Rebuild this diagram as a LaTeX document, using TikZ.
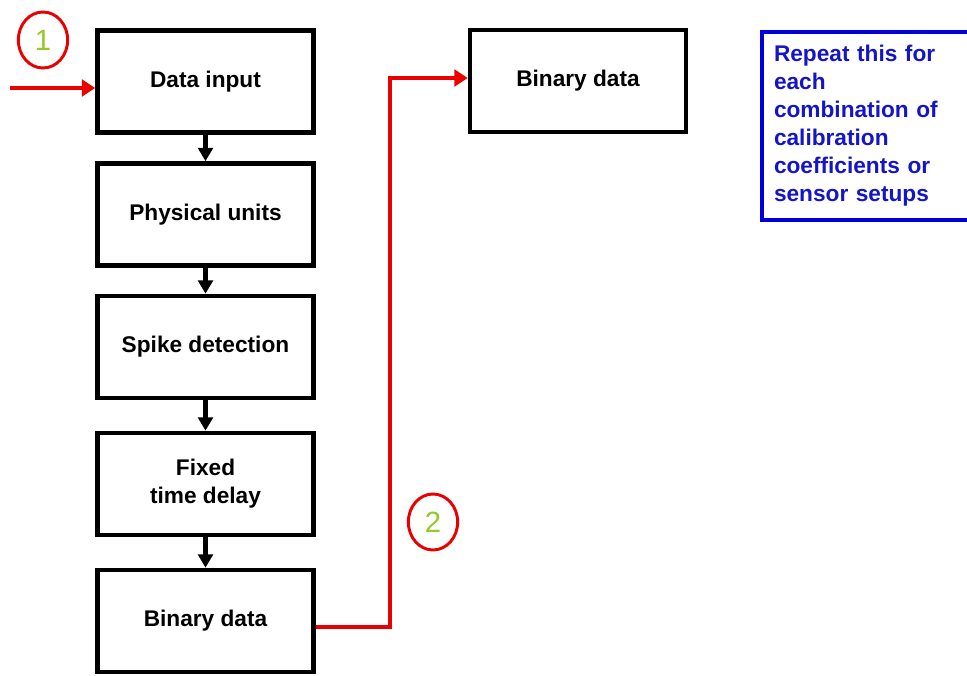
\documentclass[tikz,border=0pt]{standalone}
\usepackage{fontspec}
\setmainfont{Liberation Sans}
\usetikzlibrary{arrows.meta,shapes.geometric}
\definecolor{markred}{RGB}{235,0,0}
\definecolor{markgreen}{RGB}{150,200,40}
\definecolor{noteblue}{RGB}{0,0,215}
\definecolor{notetext}{RGB}{20,20,200}
\begin{document}
\begin{tikzpicture}[x=0.75pt,y=-0.75pt,line join=miter,
	block/.style={draw,line width=3.5pt,minimum width=162pt,minimum height=76.5pt,align=center,
		font=\fontsize{17}{21}\selectfont\bfseries,inner sep=0pt},
	note/.style={draw=noteblue,line width=3pt,text=notetext,anchor=north west,align=left,
		text width=172pt,inner xsep=9pt,minimum height=141pt,font=\fontsize{17}{21}\selectfont\bfseries},
	callout/.style={ellipse,draw=markred,line width=2.2pt,minimum width=37pt,minimum height=42pt,
		inner sep=0pt,text=markgreen,font=\fontsize{22}{22}\selectfont},
	flow/.style={line width=3.5pt,-{Triangle[width=11pt,length=10pt]}},
	redline/.style={draw=markred,line width=3.5pt,-{Triangle[width=12.5pt,length=10pt]}}]
	\useasboundingbox (0,0) rectangle (967,675);
	\clip (0,0) rectangle (967,675);
	% left column
	\node[block] (input) at (205.5,81.5) {Data input};
	\node[block] (units) at (205.5,214.5) {Physical units};
	\node[block] (spike) at (205.5,347) {Spike detection};
	\node[block] (delay) at (205.5,484) {Fixed\\time delay};
	\node[block] (bin1) at (205.5,621) {Binary data};
	\foreach \a/\b in {input/units,units/spike,spike/delay,delay/bin1}
		\draw[flow] (\a) -- (\b);
	% right part
	\node[block] (bin2) at (578,81) {Binary data};
	\node[note] (repeat) at (760,30) {Repeat this for\\each\\combination of\\calibration\\coefficients or\\sensor setups};
	% red marks
	\path (10,88) coordinate (in) (390,78) coordinate (turn);
	\draw[redline] (in) -- (in -| input.west);
	\draw[redline] ([yshift=-4.5pt]bin1.east) -| (turn) -- (turn -| bin2.west);
	\node[callout] (one) at (43,40) {1};
	\node[callout] (two) at (433,522) {2};
\end{tikzpicture}
\end{document}
